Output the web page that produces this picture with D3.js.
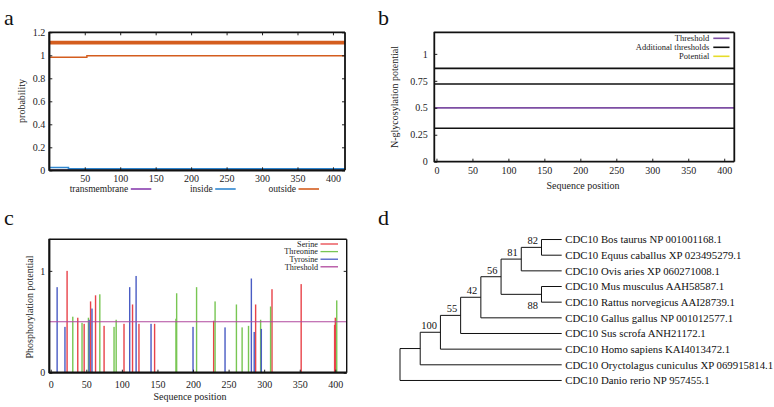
<!DOCTYPE html>
<html>
<head>
<meta charset="utf-8">
<script src="https://cdn.jsdelivr.net/npm/d3@7"></script>
<style>
body { margin: 0; background: #fff; }
svg { display: block; }
</style>
</head>
<body>
<svg id="fig" width="774" height="407" font-family="Liberation Serif"></svg>
<script>
"use strict";

// ---- panel a : TMHMM posterior probabilities
var seqLength = 417;
var outsidePos = [1, 53, 417];
var outsideProb = [0.983, 0.996, 0.996];
var insidePos = [1, 27, 417];
var insideProb = [0.025, 0.012, 0.012];
var membranePos = [1, 417];
var membraneProb = [0, 0];
var regionLevel = 1.11; // "outside" region bar drawn on top
var tmhmmNames = ["transmembrane", "inside", "outside"];
var tmhmmColors = ["#8a3fb0", "#2f86d0", "#d45d1e"];
var tmhmmXTicks = [50, 100, 150, 200, 250, 300, 350, 400];
var tmhmmYTicks = [0, 0.2, 0.4, 0.6, 0.8, 1, 1.2];

// ---- panel b : NetNGlyc
var glycThreshold = 0.5;
var glycExtraThresholds = [0.31, 0.72, 0.865];
var glycLegend = ["Threshold", "Additional thresholds", "Potential"];
var glycLegendColors = ["#7d4ea3", "#111111", "#e6dc2a"];
var glycXTicks = [0, 50, 100, 150, 200, 250, 300, 350, 400];
var glycYTicks = [0, 0.25, 0.5, 0.75, 1];

// ---- panel c : NetPhos
var serinePos = [23, 38, 47, 56, 63, 75, 103, 115, 124, 146, 229, 288, 311, 352, 399, 400];
var serineVal = [1.0, 0.54, 0.48, 0.70, 0.76, 0.46, 0.48, 0.67, 0.48, 0.48, 0.51, 0.67, 0.82, 0.87, 0.47, 0.54];
var threoninePos = [31, 44, 53, 69, 89, 92, 176, 177, 205, 231, 261, 269, 278, 295, 309, 402];
var threonineVal = [0.55, 0.49, 0.54, 0.77, 0.45, 0.52, 0.53, 0.78, 0.84, 0.70, 0.67, 0.445, 0.46, 0.52, 0.65, 0.71];
var tyrosinePos = [9, 20, 54, 58, 111, 120, 141, 200, 245, 282, 286, 296];
var tyrosineVal = [0.84, 0.45, 0.52, 0.63, 0.84, 0.95, 0.48, 0.45, 0.445, 0.925, 0.40, 0.43];
var phosThreshold = 0.5;
var phosNames = ["Serine", "Threonine", "Tyrosine", "Threshold"];
var phosColors = ["#e8434a", "#78c653", "#4a5cc4", "#b0489e"];
var phosXTicks = [0, 50, 100, 150, 200, 250, 300, 350, 400];
var phosYTicks = [0, 1];

// ---- panel d : phylogenetic tree (bootstrap support on internal nodes)
var treeData = {children: [
	{children: [
		{support: 100, children: [
			{support: 55, children: [
				{support: 42, children: [
					{support: 56, children: [
						{support: 81, children: [
							{support: 82, children: [
								{name: "CDC10 Bos taurus NP 001001168.1"},
								{name: "CDC10 Equus caballus XP 023495279.1"}
							]},
							{name: "CDC10 Ovis aries XP 060271008.1"}
						]},
						{support: 88, children: [
							{name: "CDC10 Mus musculus AAH58587.1"},
							{name: "CDC10 Rattus norvegicus AAI28739.1"}
						]}
					]},
					{name: "CDC10 Gallus gallus NP 001012577.1"}
				]},
				{name: "CDC10 Sus scrofa ANH21172.1"}
			]},
			{name: "CDC10 Homo sapiens KAI4013472.1"}
		]},
		{name: "CDC10 Oryctolagus cuniculus XP 069915814.1"}
	]},
	{name: "CDC10 Danio rerio NP 957455.1"}
]};

var FONT = "Liberation Serif";
var svg = d3.select("#fig");

function zip(xs, ys) {
	return xs.map(function(x, i){ return [x, ys[i]]; });
}

function styleAxis(g, size) {
	g.attr("font-family", FONT);
	g.select(".domain").remove();
	g.selectAll("text")
		.attr("font-family", FONT)
		.attr("font-size", size)
		.attr("fill", "#222");
	g.selectAll("line").attr("stroke", "#222");
}

function drawFrame(x, y, wLeftBottom, wTopRight) {
	var x0 = x.range()[0], x1 = x.range()[1];
	var y0 = y.range()[1], y1 = y.range()[0];
	var f = svg.append("g").attr("stroke", "#111").attr("fill", "none");
	f.append("line").attr("x1", x0).attr("x2", x1).attr("y1", y0).attr("y2", y0).attr("stroke-width", wTopRight);
	f.append("line").attr("x1", x1).attr("x2", x1).attr("y1", y0).attr("y2", y1).attr("stroke-width", wTopRight);
	f.append("line").attr("x1", x0).attr("x2", x1).attr("y1", y1).attr("y2", y1).attr("stroke-width", wLeftBottom);
	f.append("line").attr("x1", x0).attr("x2", x0).attr("y1", y0 - 0.5).attr("y2", y1 + 0.5).attr("stroke-width", wLeftBottom);
}

function panelLetter(t, x, y) {
	svg.append("text").attr("x", x).attr("y", y)
		.attr("font-family", FONT)
		.attr("font-size", 22).attr("fill", "#111").text(t);
}

function yTitle(t, x, y) {
	svg.append("text")
		.attr("transform", "translate(" + x + "," + y + ") rotate(-90)")
		.attr("text-anchor", "middle").attr("font-size", 10).attr("fill", "#222")
		.attr("font-family", FONT)
		.text(t);
}

// ================= panel a
(function(){
	var x = d3.scaleLinear().domain([0, seqLength]).range([49.3, 345]);
	var y = d3.scaleLinear().domain([0, 1.2]).range([170.3, 32.3]);
	var line = d3.line().x(function(d){ return x(d[0]); }).y(function(d){ return y(d[1]); }).curve(d3.curveStepAfter);

	var plot = svg.append("g").attr("fill", "none");
	plot.append("path").datum(zip(membranePos, membraneProb)).attr("d", line)
		.attr("stroke", tmhmmColors[0]).attr("stroke-width", 1.5);
	plot.append("path").datum(zip(insidePos, insideProb)).attr("d", line)
		.attr("stroke", tmhmmColors[1]).attr("stroke-width", 1.6);
	plot.append("path").datum(zip(outsidePos, outsideProb)).attr("d", line)
		.attr("stroke", tmhmmColors[2]).attr("stroke-width", 1.4);
	plot.append("path").datum([[1, regionLevel], [seqLength, regionLevel]]).attr("d", line)
		.attr("stroke", tmhmmColors[2]).attr("stroke-width", 3.6);

	var gx = svg.append("g").attr("transform", "translate(0," + y.range()[0] + ")")
		.call(d3.axisBottom(x).tickValues(tmhmmXTicks).tickSize(-3).tickPadding(4.5));
	styleAxis(gx, 10);
	var gt = svg.append("g").attr("transform", "translate(0," + y.range()[1] + ")")
		.call(d3.axisTop(x).tickValues(tmhmmXTicks).tickSize(-3).tickFormat(""));
	styleAxis(gt, 10);
	var gy = svg.append("g").attr("transform", "translate(" + x.range()[0] + ",0)")
		.call(d3.axisLeft(y).tickValues(tmhmmYTicks).tickSize(-3).tickPadding(4)
			.tickFormat(function(d){ return String(+d.toFixed(2)); }));
	styleAxis(gy, 10);
	var gr = svg.append("g").attr("transform", "translate(" + x.range()[1] + ",0)")
		.call(d3.axisRight(y).tickValues(tmhmmYTicks).tickSize(-3).tickFormat(""));
	styleAxis(gr, 10);

	drawFrame(x, y, 2.2, 1.8);
	yTitle("probability", 25, 101);

	// legend in one row under the axis
	var legendEnds = [128.3, 212.7, 296];
	var lg = svg.append("g").attr("font-size", 9.5).attr("fill", "#222").attr("font-family", FONT);
	tmhmmNames.forEach(function(n, i){
		lg.append("text").attr("x", legendEnds[i]).attr("y", 192.3).attr("text-anchor", "end").text(n);
		lg.append("line").attr("x1", legendEnds[i] + 2.5).attr("x2", legendEnds[i] + 23)
			.attr("y1", 189).attr("y2", 189).attr("stroke", tmhmmColors[i]).attr("stroke-width", 1.6);
	});
	panelLetter("a", 4, 25);
})();

// ================= panel b
(function(){
	var x = d3.scaleLinear().domain([-3, 414]).range([434.3, 734.3]);
	var y = d3.scaleLinear().domain([0, 1.2]).range([161.7, 32.3]);

	var plot = svg.append("g");
	plot.selectAll("line.extra").data(glycExtraThresholds).enter().append("line")
		.attr("x1", x.range()[0]).attr("x2", x.range()[1])
		.attr("y1", function(d){ return y(d); }).attr("y2", function(d){ return y(d); })
		.attr("stroke", "#111").attr("stroke-width", 1.6);
	plot.append("line")
		.attr("x1", x.range()[0]).attr("x2", x.range()[1])
		.attr("y1", y(glycThreshold)).attr("y2", y(glycThreshold))
		.attr("stroke", glycLegendColors[0]).attr("stroke-width", 1.8);

	var gx = svg.append("g").attr("transform", "translate(0," + y.range()[0] + ")")
		.call(d3.axisBottom(x).tickValues(glycXTicks).tickSize(-3).tickPadding(5.5));
	styleAxis(gx, 10);
	var gy = svg.append("g").attr("transform", "translate(" + x.range()[0] + ",0)")
		.call(d3.axisLeft(y).tickValues(glycYTicks).tickSize(-3).tickPadding(6.5)
			.tickFormat(function(d){ return String(d); }));
	styleAxis(gy, 10);

	drawFrame(x, y, 1.8, 1.8);
	yTitle("N-glycosylation  potential", 398, 97);
	svg.append("text").attr("x", 583).attr("y", 188.5).attr("text-anchor", "middle")
		.attr("font-family", FONT).attr("font-size", 10).attr("fill", "#222").text("Sequence position");

	var lg = svg.append("g").attr("font-size", 8.5).attr("fill", "#222").attr("font-family", FONT);
	glycLegend.forEach(function(n, i){
		var yy = 38.3 + i * 9;
		lg.append("text").attr("x", 709.3).attr("y", yy + 3).attr("text-anchor", "end").text(n);
		lg.append("line").attr("x1", 713.3).attr("x2", 729.5).attr("y1", yy).attr("y2", yy)
			.attr("stroke", glycLegendColors[i]).attr("stroke-width", 1.6);
	});
	panelLetter("b", 378, 25);
})();

// ================= panel c
(function(){
	var x = d3.scaleLinear().domain([-2, 416]).range([49.3, 346.7]);
	var y = d3.scaleLinear().domain([0, 1.31]).range([372.7, 239.3]);

	var series = [
		{pos: serinePos, val: serineVal, color: phosColors[0]},
		{pos: threoninePos, val: threonineVal, color: phosColors[1]},
		{pos: tyrosinePos, val: tyrosineVal, color: phosColors[2]}
	];
	var plot = svg.append("g");
	series.forEach(function(s){
		plot.append("g").selectAll("rect").data(zip(s.pos, s.val)).enter().append("rect")
			.attr("x", function(d){ return x(d[0]) - 0.7; })
			.attr("width", 1.4)
			.attr("y", function(d){ return y(d[1]); })
			.attr("height", function(d){ return y(0) - y(d[1]); })
			.attr("fill", s.color);
	});
	plot.append("line")
		.attr("x1", x.range()[0]).attr("x2", x.range()[1])
		.attr("y1", y(phosThreshold)).attr("y2", y(phosThreshold))
		.attr("stroke", phosColors[3]).attr("stroke-width", 1.1);

	var gx = svg.append("g").attr("transform", "translate(0," + y.range()[0] + ")")
		.call(d3.axisBottom(x).tickValues(phosXTicks).tickSize(-3).tickPadding(8));
	styleAxis(gx, 10);
	var gy = svg.append("g").attr("transform", "translate(" + x.range()[0] + ",0)")
		.call(d3.axisLeft(y).tickValues(phosYTicks).tickSize(-3).tickPadding(4)
			.tickFormat(function(d){ return String(d); }));
	styleAxis(gy, 10);
	var gr = svg.append("g").attr("transform", "translate(" + x.range()[1] + ",0)")
		.call(d3.axisRight(y).tickValues(phosYTicks).tickSize(-3).tickFormat(""));
	styleAxis(gr, 10);

	drawFrame(x, y, 2.2, 1.4);
	yTitle("Phosphorylation potential", 33, 307);
	svg.append("text").attr("x", 190).attr("y", 399.5).attr("text-anchor", "middle")
		.attr("font-family", FONT).attr("font-size", 10).attr("fill", "#222").text("Sequence position");

	var lg = svg.append("g").attr("font-size", 8.2).attr("fill", "#222").attr("font-family", FONT);
	phosNames.forEach(function(n, i){
		var yy = 244 + i * 7.6;
		lg.append("text").attr("x", 318).attr("y", yy + 2.8).attr("text-anchor", "end").text(n);
		lg.append("line").attr("x1", 320.5).attr("x2", 338).attr("y1", yy).attr("y2", yy)
			.attr("stroke", phosColors[i]).attr("stroke-width", 1.3);
	});
	panelLetter("c", 4, 225);
})();

// ================= panel d
(function(){
	var root = d3.hierarchy(treeData);
	var left = 400, right = 561.7, top = 231.7, bottom = 388.3;
	d3.cluster().size([bottom - top, right - left]).separation(function(){ return 1; })(root);
	root.each(function(n){ n.px = left + n.y; n.py = top + n.x; });

	var g = svg.append("g").attr("stroke", "#111").attr("stroke-width", 1).attr("fill", "none");
	root.descendants().forEach(function(n){
		if (!n.children) { return; }
		var ys = n.children.map(function(c){ return c.py; });
		g.append("line").attr("x1", n.px).attr("x2", n.px)
			.attr("y1", d3.min(ys)).attr("y2", d3.max(ys));
		n.children.forEach(function(c){
			g.append("line").attr("x1", n.px).attr("x2", c.px).attr("y1", c.py).attr("y2", c.py);
		});
	});

	var t = svg.append("g").attr("fill", "#111").attr("font-family", FONT);
	root.leaves().forEach(function(n){
		t.append("text").attr("x", n.px + 3.5).attr("y", n.py + 3.8)
			.attr("font-size", 10.8).text(n.data.name);
	});
	root.descendants().forEach(function(n){
		if (n.data.support === undefined) { return; }
		var first = n.parent.children[0] === n;
		t.append("text").attr("x", n.px - 3.5)
			.attr("y", first ? n.py - 3 : n.py + 14.5)
			.attr("text-anchor", "end").attr("font-size", 10.5).text(n.data.support);
	});
	panelLetter("d", 378, 225);
})();
</script>
</body>
</html>
